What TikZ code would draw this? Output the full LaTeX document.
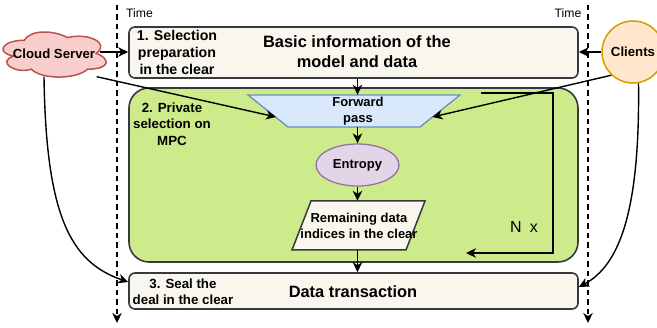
\documentclass[tikz,border=0pt]{standalone}
\usepackage{fontspec}
\setmainfont{Liberation Sans}
\usetikzlibrary{shapes.geometric,arrows.meta,calc}
\definecolor{beige}{HTML}{F9F7ED}
\definecolor{dk}{HTML}{36393D}
\definecolor{greenF}{HTML}{CDEB8B}
\definecolor{blueF}{HTML}{DAE8FC}
\definecolor{blueD}{HTML}{6C8EBF}
\definecolor{purpF}{HTML}{E1D5E7}
\definecolor{purpD}{HTML}{9673A6}
\definecolor{redF}{HTML}{F8CECC}
\definecolor{redD}{HTML}{B85450}
\definecolor{orF}{HTML}{FFE6CC}
\definecolor{orD}{HTML}{D79B00}
\begin{document}
\begin{tikzpicture}[x=1pt,y=-1pt,
  tip/.style={-{Stealth[length=10pt,width=9.5pt,inset=3pt]}},
  arr/.style={line width=1.4pt,tip},
  timeline/.style={line width=1.5pt,dash pattern=on 5.5pt off 4pt,tip},
  box/.style={draw=dk,fill=beige,line width=1.6pt,rounded corners=6pt,minimum width=449pt,inner sep=0pt},
  lbl/.style={align=center,inner sep=0pt,font=\bfseries\fontsize{13.3}{16.5}\selectfont},
  lblA/.style={align=center,inner sep=0pt,font=\bfseries\fontsize{14.2}{17}\selectfont},
  big/.style={align=center,inner sep=0pt,font=\bfseries\fontsize{16.4}{20}\selectfont},
  small/.style={align=center,inner sep=0pt,font=\bfseries\fontsize{13}{16}\selectfont},
  timelbl/.style={inner sep=0pt,font=\fontsize{12.2}{14}\selectfont}
]
\useasboundingbox (0,0) rectangle (657,328);

% time lines
\coordinate (tlA) at (117,5);
\coordinate (tlAe) at (117,323);
\coordinate (tlB) at (588,5);
\coordinate (tlBe) at (588,323);
\draw[timeline] (tlA) -- (tlAe);
\draw[timeline] (tlB) -- (tlBe);
\node[timelbl] (timeA) at (139.5,13) {Time};
\node[timelbl] (timeB) at (568,13) {Time};

% boxes
\node[box,minimum height=51pt] (top) at (353.5,52.5) {};
\node[box,fill=greenF,rounded corners=20pt,minimum height=174pt] (mpc) at (353.5,175) {};
\node[box,minimum height=36pt] (bot) at (353.5,291) {};

\node[lblA] (t1) at (177,52) {1. Selection\\preparation\\in the clear};
\node[big] (t1b) at (357,52) {Basic information of the\\model and data};
\node[lbl] (t2) at (172,124) {2. Private\\selection on\\MPC};
\node[lbl] (t3) at (183,291.5) {3. Seal the\\deal in the clear};
\node[big] (t3b) at (353,292) {Data transaction};

% inner flow
\draw[draw=blueD,fill=blueF,line width=1.3pt] (248,95) -- (460,95) -- (420,127) -- (288,127) -- cycle;
\node[small,minimum width=132pt,minimum height=32pt] (fp) at (358,111) {Forward\\pass};
\coordinate (fpL) at (276,117);
\coordinate (fpR) at (432.5,117);
\node[ellipse,draw=purpD,fill=purpF,line width=1.3pt,minimum width=83pt,minimum height=42pt,inner sep=0pt,
      font=\bfseries\fontsize{13}{16}\selectfont] (ent) at (357.5,165) {Entropy};
\draw[draw=dk,fill=beige,line width=1.5pt] (311,201) -- (425,201) -- (406,250) -- (292,250) -- cycle;
\node[small,minimum width=114pt,minimum height=49pt] (rem) at (359,225.5) {Remaining data\\indices in the clear};

% cloud server
\begin{scope}[shift={(-4.5,27.1)},x=115.2pt,y=-52.6pt]
\draw[draw=redD,fill=redF,line width=1.5pt]
  (0.25,0.25) .. controls (0.05,0.25) and (0,0.5) .. (0.16,0.55)
  .. controls (0,0.66) and (0.18,0.9) .. (0.31,0.8)
  .. controls (0.4,1) and (0.7,1) .. (0.8,0.8)
  .. controls (1,0.8) and (1,0.6) .. (0.875,0.5)
  .. controls (1,0.3) and (0.8,0.1) .. (0.625,0.2)
  .. controls (0.5,0.05) and (0.3,0.05) .. (0.25,0.25) -- cycle;
\end{scope}
\node[minimum width=103pt,minimum height=45pt,inner sep=0pt,font=\bfseries\fontsize{13.2}{16}\selectfont] (cs) at (54,54) {Cloud Server};

% clients
\node[circle,draw=orD,fill=orF,line width=1.5pt,minimum size=62pt,inner sep=0pt,
      font=\bfseries\fontsize{13.2}{16}\selectfont] (cli) at (633,52) {Clients};

% arrows
\draw[arr] (top.south -| ent.north) -- (fp.north -| ent.north);
\draw[arr] (fp.south -| ent.north) -- (ent.north);
\draw[arr] (ent.south) -- (rem.north -| ent.south);
\draw[arr] (rem.south -| ent.south) -- (bot.north -| ent.south);

\draw[arr] ([xshift=-6pt,yshift=2pt]cs.east) -- ([yshift=2pt]cs.east -| top.west);
\draw[arr] ([xshift=-9pt]cs.south east) -- (fpL);
\draw[arr] ([xshift=-10pt]cs.south) .. controls (46,215) and (70,262) .. ([yshift=9pt]bot.west);

\draw[arr] (cli.west) -- (cli.west -| top.east);
\draw[arr] (cli.227) -- (fpR);
\draw[arr] (cli.-80) .. controls (640,210) and (620,265) .. ([yshift=4pt]bot.east);

% loop
\coordinate (la) at (481,93);
\coordinate (lb) at (466,253);
\draw[arr] (la) -- (553,93) -- (553,253) -- (lb);
\node[inner sep=0pt,font=\fontsize{16}{18}\selectfont] (nx) at (524,227) {N\hspace{0.5em}x};
\end{tikzpicture}
\end{document}
